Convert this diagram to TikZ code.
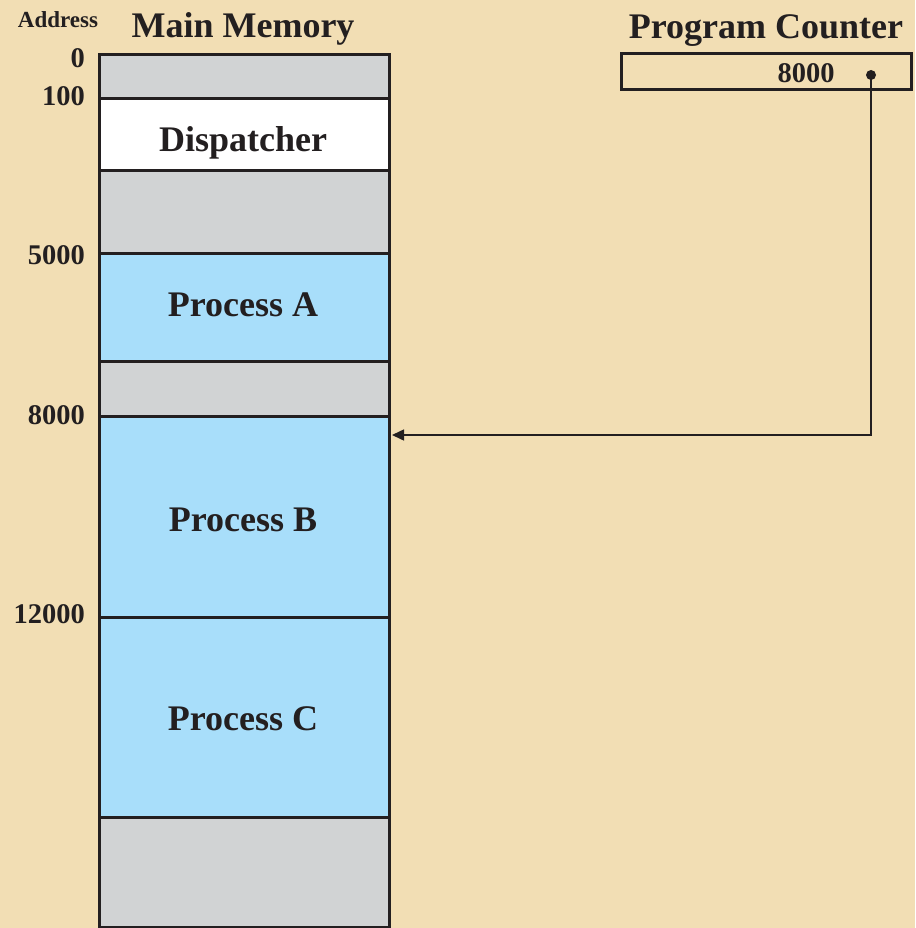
\documentclass[tikz,border=0pt]{standalone}
\usepackage{fontspec}
\setmainfont{Liberation Serif}
\usepackage{tikz}
\usetikzlibrary{calc, positioning, arrows.meta}

\definecolor{bgbeige}{RGB}{242,222,180}
\definecolor{memgray}{RGB}{209,211,212}
\definecolor{memblue}{RGB}{168,222,250}
\definecolor{inkdark}{RGB}{35,31,32}

\begin{document}
\begin{tikzpicture}[x=1pt, y=-1pt]
\tikzstyle{mem_seg}=[rectangle, draw=inkdark, line width=3pt, inner sep=0pt,
	minimum width=290pt, text depth=0pt, text=inkdark,
	font=\fontsize{36}{38}\selectfont\bfseries]
\tikzstyle{mem_gray}=[mem_seg, fill=memgray]
\tikzstyle{mem_blue}=[mem_seg, fill=memblue]
\tikzstyle{mem_white}=[mem_seg, fill=white]
\tikzstyle{addr}=[anchor=east, inner sep=0pt, text depth=0pt, text=inkdark,
	font=\fontsize{28.5}{30}\selectfont\bfseries]
\tikzstyle{title}=[inner sep=0pt, text depth=0pt, text=inkdark,
	font=\fontsize{36}{38}\selectfont\bfseries]

% background
\fill[bgbeige] (0,0) rectangle (915,928);
\useasboundingbox (0,0) rectangle (915,928);

% main memory column
\node at (244,77) [mem_gray, minimum height=44pt] (seg_top) {};
\node at (244,135) [mem_white, minimum height=72pt] (dispatcher) {};
\node at (244,212) [mem_gray, minimum height=82pt] (seg_free1) {};
\node at (244,307) [mem_blue, minimum height=108pt] (procA) {};
\node at (244,388.5) [mem_gray, minimum height=55pt] (seg_free2) {};
\node at (244,516.5) [mem_blue, minimum height=201pt] (procB) {};
\node at (244,717) [mem_blue, minimum height=200pt] (procC) {};
\node at (244,872) [mem_gray, minimum height=110pt] (seg_bottom) {};

% segment texts
\node at (243,139) [title] (dispatcher_txt) {Dispatcher};
\node at (243,305) [title] (procA_txt) {Process A};
\node at (243,520) [title] (procB_txt) {Process B};
\node at (243,719) [title] (procC_txt) {Process C};

% headings
\node at (243,25) [title] (mm_title) {Main Memory};
\node at (58,19.5) [title, font=\fontsize{23}{25}\selectfont\bfseries] (addr_title) {Address};
\node at (766,26.5) [title] (pc_title) {Program Counter};

% addresses
\node at (85,58) [addr] (a0) {0};
\node at (85,96) [addr] (a100) {100};
\node at (85,255) [addr] (a5000) {5000};
\node at (85,415) [addr] (a8000) {8000};
\node at (85,614) [addr] (a12000) {12000};

% program counter
\node at (766,72) [rectangle, draw=inkdark, line width=3pt, minimum width=290pt,
	minimum height=36pt, inner sep=0pt] (pc_box) {};
\node at (806,73.5) [addr, anchor=center] (pc_value) {8000};
\node at (871,75) [circle, fill=inkdark, inner sep=0pt, minimum size=10pt] (pc_dot) {};
\coordinate (pc_in) at (392,435);

\draw[inkdark, line width=1.5pt, -{Triangle[length=12pt, width=11pt]}]
	(pc_dot.center) |- (pc_in);

\end{tikzpicture}
\end{document}
